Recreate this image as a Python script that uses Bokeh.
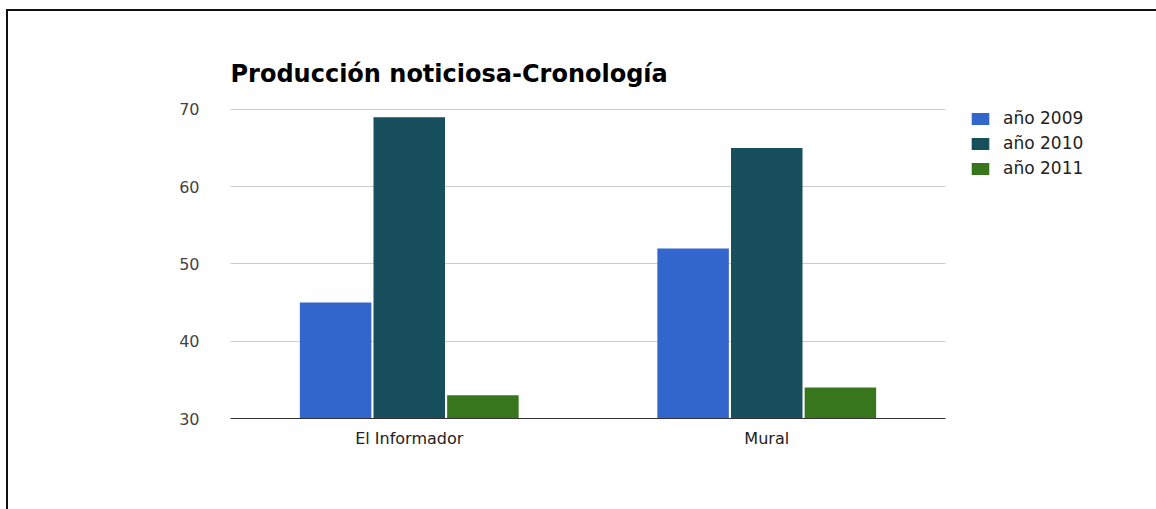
from bokeh.plotting import figure
from bokeh.models import FactorRange, Range1d, FixedTicker, Legend, LegendItem, ColumnDataSource
from bokeh.transform import dodge
from bokeh.core.properties import value
from bokeh.embed import file_html
from bokeh.resources import INLINE

categories = ["El Informador", "Mural"]
series_names = ["año 2009", "año 2010", "año 2011"]
anio_2009 = [45, 52]
anio_2010 = [69, 65]
anio_2011 = [33, 34]
y_ticks = [30, 40, 50, 60, 70]
title_text = "Producción noticiosa-Cronología"

colors = ["#3366CC", "#174F5C", "#38761D"]
offsets = [-0.206, 0.0, 0.206]
FONT = "DejaVu Sans"

src = ColumnDataSource(dict(cat=categories, a2009=anio_2009, a2010=anio_2010, a2011=anio_2011))

p = figure(x_range=FactorRange(*categories, range_padding=0), y_range=Range1d(30, 70.12),
           frame_width=715, frame_height=310, output_backend="svg", toolbar_location=None,
           min_border_left=222, min_border_right=170, min_border_top=97, min_border_bottom=91)
p.styles = {"margin-left": "6px", "margin-top": "9px",
            "border-left": "2px solid #111", "border-top": "2px solid #111"}

renderers = []
for col, off, c in zip(["a2009", "a2010", "a2011"], offsets, colors):
    r = p.vbar(x=dodge("cat", off, range=p.x_range), top=col, bottom=30, width=0.2,
               source=src, fill_color=c, line_color=None)
    renderers.append(r)

p.title.text = title_text
p.title.text_font = FONT
p.title.text_font_size = "24px"
p.title.text_font_style = "bold"
p.title.text_color = "#000000"
p.title.standoff = 41
p.title.offset = 0

p.outline_line_color = None
p.background_fill_color = "white"
p.border_fill_color = "white"

p.yaxis.ticker = FixedTicker(ticks=y_ticks)
p.yaxis.axis_line_color = None
p.yaxis.major_tick_line_color = None
p.yaxis.minor_tick_line_color = None
p.yaxis.major_label_standoff = 25
p.yaxis.major_label_text_font = FONT
p.yaxis.major_label_text_font_size = "16px"
p.yaxis.major_label_text_color = "#444444"

p.xaxis.axis_line_color = "#333333"
p.xaxis.axis_line_width = 1
p.xaxis.major_tick_line_color = None
p.xaxis.minor_tick_line_color = None
p.xaxis.major_label_standoff = 4
p.xaxis.major_label_text_font = FONT
p.xaxis.major_label_text_font_size = "16px"
p.xaxis.major_label_text_color = "#222222"

p.xgrid.grid_line_color = None
p.ygrid.grid_line_color = "#CCCCCC"
p.ygrid.ticker = FixedTicker(ticks=y_ticks[1:])

legend = Legend(items=[LegendItem(label=n, renderers=[r]) for n, r in zip(series_names, renderers)],
                location=(24, 240), orientation="vertical")
legend.border_line_color = None
legend.background_fill_alpha = 0
legend.padding = 0
legend.margin = 0
legend.spacing = 5
legend.glyph_width = 22
legend.glyph_height = 15
legend.label_height = 15
legend.label_standoff = 12
legend.label_text_font = FONT
legend.label_text_font_size = "17px"
legend.label_text_color = "#222222"
p.add_layout(legend, "right")

open("out.html", "w").write(file_html(p, INLINE))
